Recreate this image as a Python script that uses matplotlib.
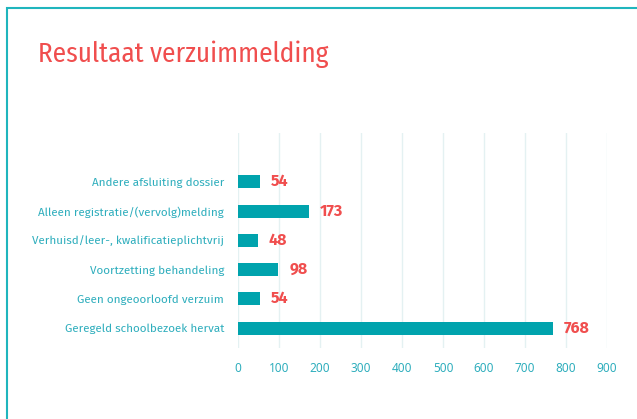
import matplotlib.pyplot as plt
from matplotlib.patches import Rectangle

categories = [
    "Andere afsluiting dossier",
    "Alleen registratie/(vervolg)melding",
    "Verhuisd/leer-, kwalificatieplichtvrij",
    "Voortzetting behandeling",
    "Geen ongeoorloofd verzuim",
    "Geregeld schoolbezoek hervat",
]
values = [54, 173, 48, 98, 54, 768]
xticks = [0, 100, 200, 300, 400, 500, 600, 700, 800, 900]

teal = "#00A3AD"
label_teal = "#2FAEBD"
red = "#F04E4E"
fira = ["Fira Sans", "Noto Sans", "DejaVu Sans"]

plt.rcParams["font.family"] = ["Noto Sans", "DejaVu Sans"]

fig = plt.figure(figsize=(6.37, 4.19), dpi=100)
fig.patches.append(Rectangle((7 / 637, -0.1), 1.2, (419 - 8) / 419 + 0.1,
                             transform=fig.transFigure, fill=False,
                             edgecolor="#1FB5BD", linewidth=1.5))
fig.text(38 / 637, 1 - 54 / 419, "Resultaat verzuimmelding", color=red,
         fontsize=19.5, va="center", ha="left",
         family=["Fira Sans Condensed", "Noto Sans", "DejaVu Sans"])

ax = fig.add_axes([238 / 637, 1 - 348 / 419, (607 - 238) / 637, (348 - 133) / 419])
pos = list(range(len(categories)))
ax.barh(pos, values, height=0.44, color=teal)
for p, v in zip(pos, values):
    ax.annotate(str(v), (v, p), xytext=(8, 0), textcoords="offset points",
                va="center", ha="left", color=red, fontsize=11.5,
                fontweight="bold", family=fira)

ax.set_ylim(5.68, -1.67)
ax.set_xlim(0, 900)
ax.set_yticks(pos)
ax.set_yticklabels(categories, color=label_teal, fontsize=8.4, family=fira)
ax.set_xticks(xticks)
ax.set_xticklabels([str(t) for t in xticks], color=label_teal, fontsize=8.5)
ax.tick_params(axis="y", length=0, pad=10)
ax.tick_params(axis="x", length=0, pad=10)
ax.grid(axis="x", color="#E4F1F2", linewidth=1)
ax.set_axisbelow(True)
for s in ax.spines.values():
    s.set_visible(False)

fig.savefig("out.png", dpi=100)
